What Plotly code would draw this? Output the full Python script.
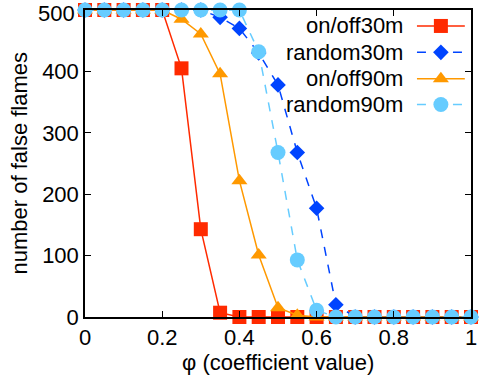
import plotly.graph_objects as go

phi = [round(0.05 * i, 2) for i in range(21)]
onoff30 = [500, 500, 500, 500, 500, 405, 143, 7, 0, 0, 0, 0, 0, 0, 0, 0, 0, 0, 0, 0, 0]
random30 = [500, 500, 500, 500, 500, 500, 500, 488, 470, 430, 378, 268, 177, 20, 0, 0, 0, 0, 0, 0, 0]
onoff90 = [500, 500, 500, 500, 500, 485, 461, 396, 222, 101, 15, 3, 0, 0, 0, 0, 0, 0, 0, 0, 0]
random90 = [500, 500, 500, 500, 500, 500, 500, 500, 500, 432, 268, 93, 11, 0, 0, 0, 0, 0, 0, 0, 0]

y_ticks = [0, 100, 200, 300, 400, 500]
x_ticks = [0, 0.2, 0.4, 0.6, 0.8, 1]
x_tick_text = ["0", "0.2", "0.4", "0.6", "0.8", "1"]

names = ["on/off30m", "random30m", "on/off90m", "random90m"]
colors = ["#FF2A00", "#0044FF", "#FF9900", "#66CCFF"]
symbols = ["square", "diamond", "triangle-up", "circle"]
sizes = [14, 12, 14, 15]
dashes = ["solid", "dash", "solid", "dash"]
series = [onoff30, random30, onoff90, random90]

FONT = "Liberation Sans, Arial, sans-serif"
FS = 22

fig = go.Figure()
for name, ys, c, s, sz, d in zip(names, series, colors, symbols, sizes, dashes):
    fig.add_trace(go.Scatter(
        x=phi, y=ys, mode="lines+markers", name=name,
        line=dict(color=c, width=1.5, dash=d),
        marker=dict(symbol=s, size=sz, color=c, line=dict(width=0)),
        cliponaxis=False, showlegend=False,
    ))

# custom legend (text right-aligned, sample to the right)
leg_y = [0.948, 0.862, 0.776, 0.692]
for name, c, s, sz, d, ly in zip(names, colors, symbols, sizes, dashes, leg_y):
    fig.add_trace(go.Scatter(
        x=[0.86, 0.984], y=[ly, ly], mode="lines", xaxis="x2", yaxis="y2",
        line=dict(color=c, width=1.5, dash=d), showlegend=False, hoverinfo="skip",
    ))
    fig.add_trace(go.Scatter(
        x=[0.922], y=[ly], mode="markers", xaxis="x2", yaxis="y2",
        marker=dict(symbol=s, size=sz, color=c), showlegend=False, hoverinfo="skip",
    ))
    fig.add_annotation(x=0.829, y=ly, xref="x2", yref="y2", text=name,
                       showarrow=False, xanchor="right", yanchor="middle",
                       font=dict(family=FONT, size=FS, color="black"))

# axis titles as annotations for precise placement
fig.add_annotation(x=0.5, y=0, xref="paper", yref="paper", text="φ (coefficient value)",
                   showarrow=False, xanchor="center", yanchor="middle", yshift=-45,
                   font=dict(family=FONT, size=FS, color="black"))
fig.add_annotation(x=0, y=0.5, xref="paper", yref="paper", text="number of false flames",
                   showarrow=False, xanchor="center", yanchor="middle", xshift=-66, textangle=-90,
                   font=dict(family=FONT, size=FS, color="black"))
# top y tick label kept inside the page
fig.add_annotation(x=0, y=y_ticks[-1], xref="paper", yref="y", text=str(y_ticks[-1]),
                   showarrow=False, xanchor="right", yanchor="top", xshift=-9, yshift=10,
                   borderpad=0, font=dict(family=FONT, size=FS, color="black"))

axis_common = dict(
    showline=True, linecolor="black", linewidth=1.5, mirror="ticks",
    ticks="inside", ticklen=6, tickwidth=1.2, tickcolor="black",
    showgrid=False, zeroline=False, automargin=False, ticklabeloverflow="allow",
    tickfont=dict(family=FONT, size=FS, color="black"),
)

fig.update_layout(
    width=484, height=376,
    margin=dict(l=85, r=13, t=10, b=59),
    paper_bgcolor="white", plot_bgcolor="white",
    xaxis=dict(range=[0, 1], tickvals=x_ticks, ticktext=x_tick_text, **axis_common),
    yaxis=dict(range=[0, 500], tickvals=y_ticks,
               ticktext=[str(v) for v in y_ticks[:-1]] + [""], **axis_common),
    xaxis2=dict(overlaying="x", range=[0, 1], visible=False, fixedrange=True),
    yaxis2=dict(overlaying="y", range=[0, 1], visible=False, fixedrange=True),
    showlegend=False,
)
fig.write_html("out.html", config={"displayModeBar": False},
               post_script="document.body.style.margin='0';document.body.style.overflow='hidden';")
